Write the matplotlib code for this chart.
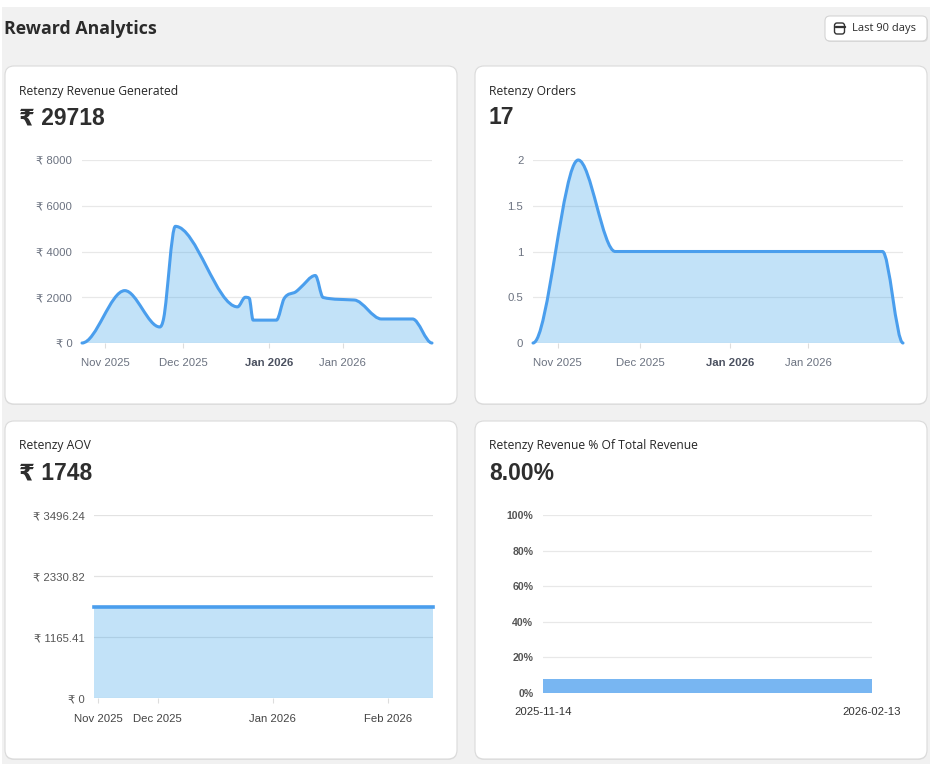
import numpy as np
import pandas as pd
import matplotlib
matplotlib.use("Agg")
import matplotlib.pyplot as plt
from matplotlib.path import Path
from matplotlib.patches import PathPatch, FancyBboxPatch, Rectangle
from matplotlib.transforms import Affine2D

# ---- data ----
# revenue / orders cards: x in days across the 90 day window
rev_days = [0, 11, 20, 21, 24, 40, 42, 43, 44, 50, 52, 55, 56, 60, 62, 70, 77, 85, 90]
rev_vals = [0, 2290, 700, 1080, 5100, 1580, 2000, 1960, 1000, 1000, 1950, 2240, 2390, 2950, 1990, 1880, 1050, 1050, 0]
rev_ticks = [0, 2000, 4000, 6000, 8000]

ord_days = [0, 11, 20, 85, 90]
ord_vals = [0, 2, 1, 1, 0]
ord_ticks = [0, 0.5, 1, 1.5, 2]
ord_tick_labels = ["0", "0.5", "1", "1.5", "2"]

top_xtick_pos = [6, 26, 48, 67]
top_xtick_labels = ["Nov 2025", "Dec 2025", "Jan 2026", "Jan 2026"]

aov_dates = pd.to_datetime(["2025-11-14", "2026-02-13"])
aov_vals = [1748, 1748]
aov_ticks = [0, 1165.41, 2330.82, 3496.24]
aov_xtick_dates = pd.to_datetime(["2025-11-15", "2025-12-01", "2026-01-01", "2026-02-01"])
aov_xtick_labels = ["Nov 2025", "Dec 2025", "Jan 2026", "Feb 2026"]

pct_labels = ["2025-11-14", "2026-02-13"]
pct_value = 8.0
pct_ticks = [0, 20, 40, 60, 80, 100]

cards = [
    ("Retenzy Revenue Generated", "₹ 29718"),
    ("Retenzy Orders", "17"),
    ("Retenzy AOV", "₹ 1748"),
    ("Retenzy Revenue % Of Total Revenue", "8.00%"),
]

W, H = 932, 764
LINE = "#4a9eed"
FILL = (54/255, 162/255, 235/255, 0.30)
GRID = "#e8e8e8"
TICKC = "#6b7280"
TFONT = ["Liberation Sans", "DejaVu Sans"]
UFONT = ["Open Sans", "DejaVu Sans"]

fig = plt.figure(figsize=(W/100, H/100), dpi=100)
fig.patch.set_facecolor("white")
PX = Affine2D().scale(1/W, 1/H) + fig.transFigure


def rect(x0, y0, x1, y1, z=-5, **kw):
    # pixel box measured from the top left
    return FancyBboxPatch((x0, H - y1), x1 - x0, y1 - y0, transform=PX, zorder=z, **kw)


def axbox(x0, y0, x1, y1):
    return [x0/W, 1 - y1/H, (x1 - x0)/W, (y1 - y0)/H]


def txt(x, y, s, **kw):
    fig.text(x/W, 1 - y/H, s, va="center", **kw)


def smooth(xs, ys):
    # monotone cubic through the points, as bezier segments
    xs = np.asarray(xs, float)
    ys = np.asarray(ys, float)
    n = len(xs)
    d = np.diff(ys) / np.diff(xs)
    m = np.zeros(n)
    for i in range(1, n - 1):
        if d[i-1] * d[i] > 0:
            m[i] = (d[i-1] + d[i]) / 2
    for i in range(n - 1):
        if d[i] == 0:
            m[i] = 0
            m[i+1] = 0
            continue
        a, b = m[i] / d[i], m[i+1] / d[i]
        s = a*a + b*b
        if s > 9:
            t = 3 / np.sqrt(s)
            m[i] = t * a * d[i]
            m[i+1] = t * b * d[i]
    verts = [(xs[0], ys[0])]
    codes = [Path.MOVETO]
    for i in range(n - 1):
        h = xs[i+1] - xs[i]
        verts += [(xs[i] + h/3, ys[i] + m[i]*h/3),
                  (xs[i+1] - h/3, ys[i+1] - m[i+1]*h/3),
                  (xs[i+1], ys[i+1])]
        codes += [Path.CURVE4] * 3
    return verts, codes


def area(ax, xs, ys):
    verts, codes = smooth(xs, ys)
    fill = Path(verts + [(xs[-1], 0), (xs[0], 0), (xs[0], 0)],
                codes + [Path.LINETO, Path.LINETO, Path.CLOSEPOLY])
    ax.add_patch(PathPatch(fill, facecolor=FILL, edgecolor="none", zorder=2))
    ax.add_patch(PathPatch(Path(verts, codes), fill=False, edgecolor=LINE, lw=2.2,
                           capstyle="round", joinstyle="round", zorder=3, clip_on=False))


def style(ax, ycolor=TICKC, xcolor=TICKC):
    for s in ax.spines.values():
        s.set_visible(False)
    ax.set_facecolor("none")
    ax.grid(axis="y", color=GRID, lw=0.9)
    ax.set_axisbelow(True)
    ax.tick_params(axis="y", length=0, pad=7, labelsize=8.2, labelcolor=ycolor)
    ax.tick_params(axis="x", length=3.6, width=0.8, color="#dddddd", pad=7.5,
                   labelsize=8.2, labelcolor=xcolor)
    for lab in ax.get_xticklabels() + ax.get_yticklabels():
        lab.set_family(TFONT)


# page background
fig.add_artist(Rectangle((2/W, 0), 928/W, 757/H, transform=fig.transFigure,
                         facecolor="#f1f1f1", edgecolor="none", zorder=-10))
txt(4, 29, "Reward Analytics", fontsize=12.8, fontweight="bold", color="#2b2b2b", family=UFONT)

# date range button
fig.add_artist(rect(826, 17, 928, 42, boxstyle="round,pad=0,rounding_size=5",
                    facecolor="#dcdcdc", edgecolor="none", z=-6))
fig.add_artist(rect(825, 16, 927, 41, boxstyle="round,pad=0,rounding_size=5",
                    facecolor="white", edgecolor="#d4d4d4", lw=0.8))
fig.add_artist(rect(834.5, 23, 844.5, 34, boxstyle="round,pad=0,rounding_size=2.5",
                    facecolor="none", edgecolor="#333333", lw=1.0, z=2))
fig.add_artist(Rectangle((834.5, H - 26.5), 10, 0.01, transform=PX,
                         facecolor="none", edgecolor="#333333", lw=0.9, zorder=2))
txt(852, 29, "Last 90 days", fontsize=8, color="#2b2b2b", family=UFONT)

# cards
card_boxes = [(5, 66, 457, 404), (475, 66, 927, 404), (5, 421, 457, 759), (475, 421, 927, 759)]
for (x0, y0, x1, y1), (title, value) in zip(card_boxes, cards):
    fig.add_artist(rect(x0, y0 + 1, x1, y1 + 1, boxstyle="round,pad=0,rounding_size=9",
                        facecolor="#e2e2e2", edgecolor="none", z=-6))
    fig.add_artist(rect(x0, y0, x1, y1, boxstyle="round,pad=0,rounding_size=9",
                        facecolor="white", edgecolor="#dadada", lw=0.8))
    txt(x0 + 14, y0 + 25, title, fontsize=8.7, color="#262626", family=UFONT)
    txt(x0 + 14, y0 + 52, value, fontsize=16.5, fontweight="bold", color="#2e2e2e", family=TFONT)

# revenue
ax1 = fig.add_axes(axbox(82, 160, 432, 343))
ax1.set_xlim(0, 90)
ax1.set_ylim(0, 8000)
area(ax1, rev_days, rev_vals)
ax1.set_yticks(rev_ticks)
ax1.set_yticklabels([f"₹ {v}" for v in rev_ticks])
ax1.set_xticks(top_xtick_pos)
ax1.set_xticklabels(top_xtick_labels)
style(ax1)

# orders
ax2 = fig.add_axes(axbox(533, 160, 903, 343))
ax2.set_xlim(0, 90)
ax2.set_ylim(0, 2)
area(ax2, ord_days, ord_vals)
ax2.set_yticks(ord_ticks)
ax2.set_yticklabels(ord_tick_labels)
ax2.set_xticks(top_xtick_pos)
ax2.set_xticklabels(top_xtick_labels)
style(ax2)

for ax in (ax1, ax2):
    bold = ax.get_xticklabels()[2]
    bold.set_fontweight("bold")
    bold.set_color("#4b5160")

# aov
ax3 = fig.add_axes(axbox(94.3, 515.3, 432.7, 698.3))
ax3.set_xlim(aov_dates[0], aov_dates[-1])
ax3.set_ylim(0, aov_ticks[-1])
ax3.fill_between(aov_dates, aov_vals, color=FILL, lw=0, zorder=2)
ax3.plot(aov_dates, aov_vals, color=LINE, lw=2.6, zorder=3, clip_on=False)
ax3.set_yticks(aov_ticks)
ax3.set_yticklabels(["₹ 0"] + [f"₹ {v:.2f}" for v in aov_ticks[1:]])
ax3.set_xticks(aov_xtick_dates)
ax3.set_xticklabels(aov_xtick_labels)
style(ax3, ycolor="#555555", xcolor="#444444")
ax3.grid(axis="y", color="#e2e2e2", lw=0.9)

# revenue share
ax4 = fig.add_axes(axbox(543, 515.3, 871.7, 692.7))
ax4.set_xlim(0, 1)
ax4.set_ylim(0, 100)
ax4.bar([0], [pct_value], width=1, align="edge", color="#78b6f2", zorder=2)
ax4.set_yticks(pct_ticks)
ax4.set_yticklabels([f"{v}%" for v in pct_ticks])
ax4.set_xticks([0, 1])
ax4.set_xticklabels(pct_labels)
style(ax4, ycolor="#555555", xcolor="#333333")
ax4.tick_params(axis="x", length=0, pad=10.5)
ax4.tick_params(axis="y", labelsize=7.6)
for lab in ax4.get_yticklabels():
    lab.set_fontweight("bold")

fig.savefig("out.png", dpi=100)
